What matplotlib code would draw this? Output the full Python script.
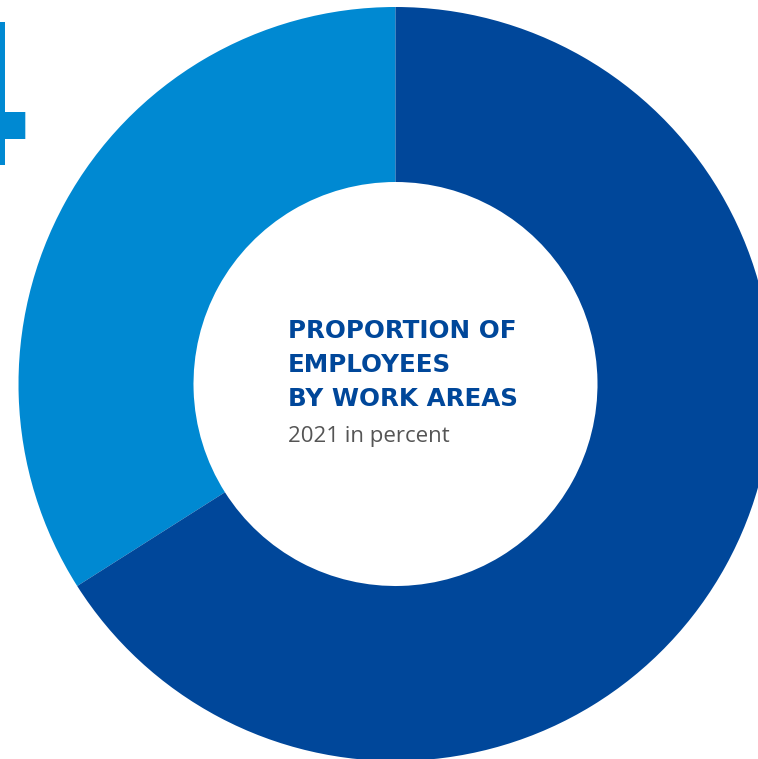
import matplotlib
matplotlib.use("Agg")
import matplotlib.pyplot as plt

# Shares of employees by work area, 2021 (percent)
areas = ["Area A", "Area B"]
shares = [34, 66]
colors = ["#0089D2", "#00479A"]

W, H = 758, 759
fig = plt.figure(figsize=(W / 100, H / 100), dpi=100)
ax = fig.add_axes([0, 0, 1, 1])

cx, cy = 395.5, H - 384
r_out, r_in = 377, 202
ax.pie(shares, colors=colors, startangle=90, counterclock=True,
       center=(cx, cy), radius=r_out, frame=True,
       wedgeprops=dict(width=r_out - r_in, linewidth=0))
ax.set_xlim(0, W)
ax.set_ylim(0, H)
ax.set_aspect("equal")
ax.axis("off")

# Big section number at the left edge, mostly cut off
fig.text(33 / W, 1 - 165 / H, "4", ha="right", va="baseline",
         fontsize=141, fontweight="bold", color="#0089D2",
         family="DejaVu Sans")

title_col = "#00479A"
lines = ["PROPORTION OF", "EMPLOYEES", "BY WORK AREAS"]
for i, t in enumerate(lines):
    ax.text(288, H - (338 + 34 * i), t, ha="left", va="baseline",
            fontsize=17.7, fontweight="bold", color=title_col,
            family="DejaVu Sans")
ax.text(288, H - 442, "2021 in percent", ha="left", va="baseline",
        fontsize=16, color="#555555", family="Open Sans")

fig.savefig("out.png", dpi=100, facecolor="white")
